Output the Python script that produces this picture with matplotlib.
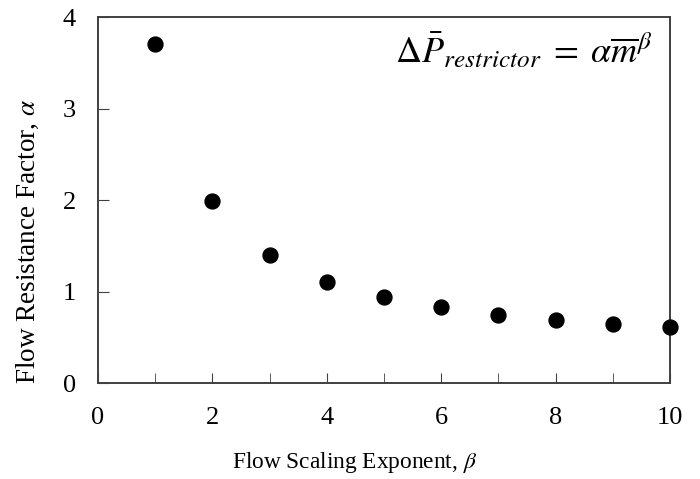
import matplotlib
matplotlib.use("Agg")
import matplotlib.pyplot as plt
from matplotlib.ticker import MultipleLocator

# flow scaling exponent vs. flow resistance factor
beta = [1, 2, 3, 4, 5, 6, 7, 8, 9, 10]
alpha = [3.70, 1.99, 1.40, 1.107, 0.943, 0.834, 0.743, 0.688, 0.641, 0.608]

plt.rcParams['font.family'] = ['Liberation Serif', 'DejaVu Serif']
plt.rcParams['mathtext.fontset'] = 'stix'

fig = plt.figure(figsize=(7, 4.79), dpi=100)
ax = fig.add_axes([0.14, 0.2004, 0.817, 0.764])

ax.scatter(beta, alpha, s=115, color='black', zorder=3, clip_on=False)

ax.set_xlim(0, 10)
ax.set_ylim(0, 4)
ax.xaxis.set_major_locator(MultipleLocator(2))
ax.xaxis.set_minor_locator(MultipleLocator(1))
ax.yaxis.set_major_locator(MultipleLocator(1))

ax.tick_params(axis='both', which='both', direction='in', labelsize=19, color='#404040')
ax.tick_params(axis='x', which='both', length=7, pad=17)
ax.tick_params(axis='y', which='major', length=8, pad=16)
ax.tick_params(axis='y', which='minor', length=0)

for sp in ax.spines.values():
    sp.set_color('#404040')
    sp.set_linewidth(1.4)

ax.set_xlabel(r'Flow Scaling Exponent, $\beta$', fontsize=16.8, va='center')
ax.set_ylabel(r'Flow Resistance Factor, $\alpha$', fontsize=19.5, va='center')
ax.xaxis.set_label_coords(0.449, -0.216)
ax.yaxis.set_label_coords(-0.122, 0.388)

ax.text(0.968, 0.905, r'$\Delta\bar{P}_{restrictor}\;=\;\alpha\overline{m}^{\beta}$',
        transform=ax.transAxes, ha='right', va='center', fontsize=26)

fig.savefig('out.png', dpi=100)
